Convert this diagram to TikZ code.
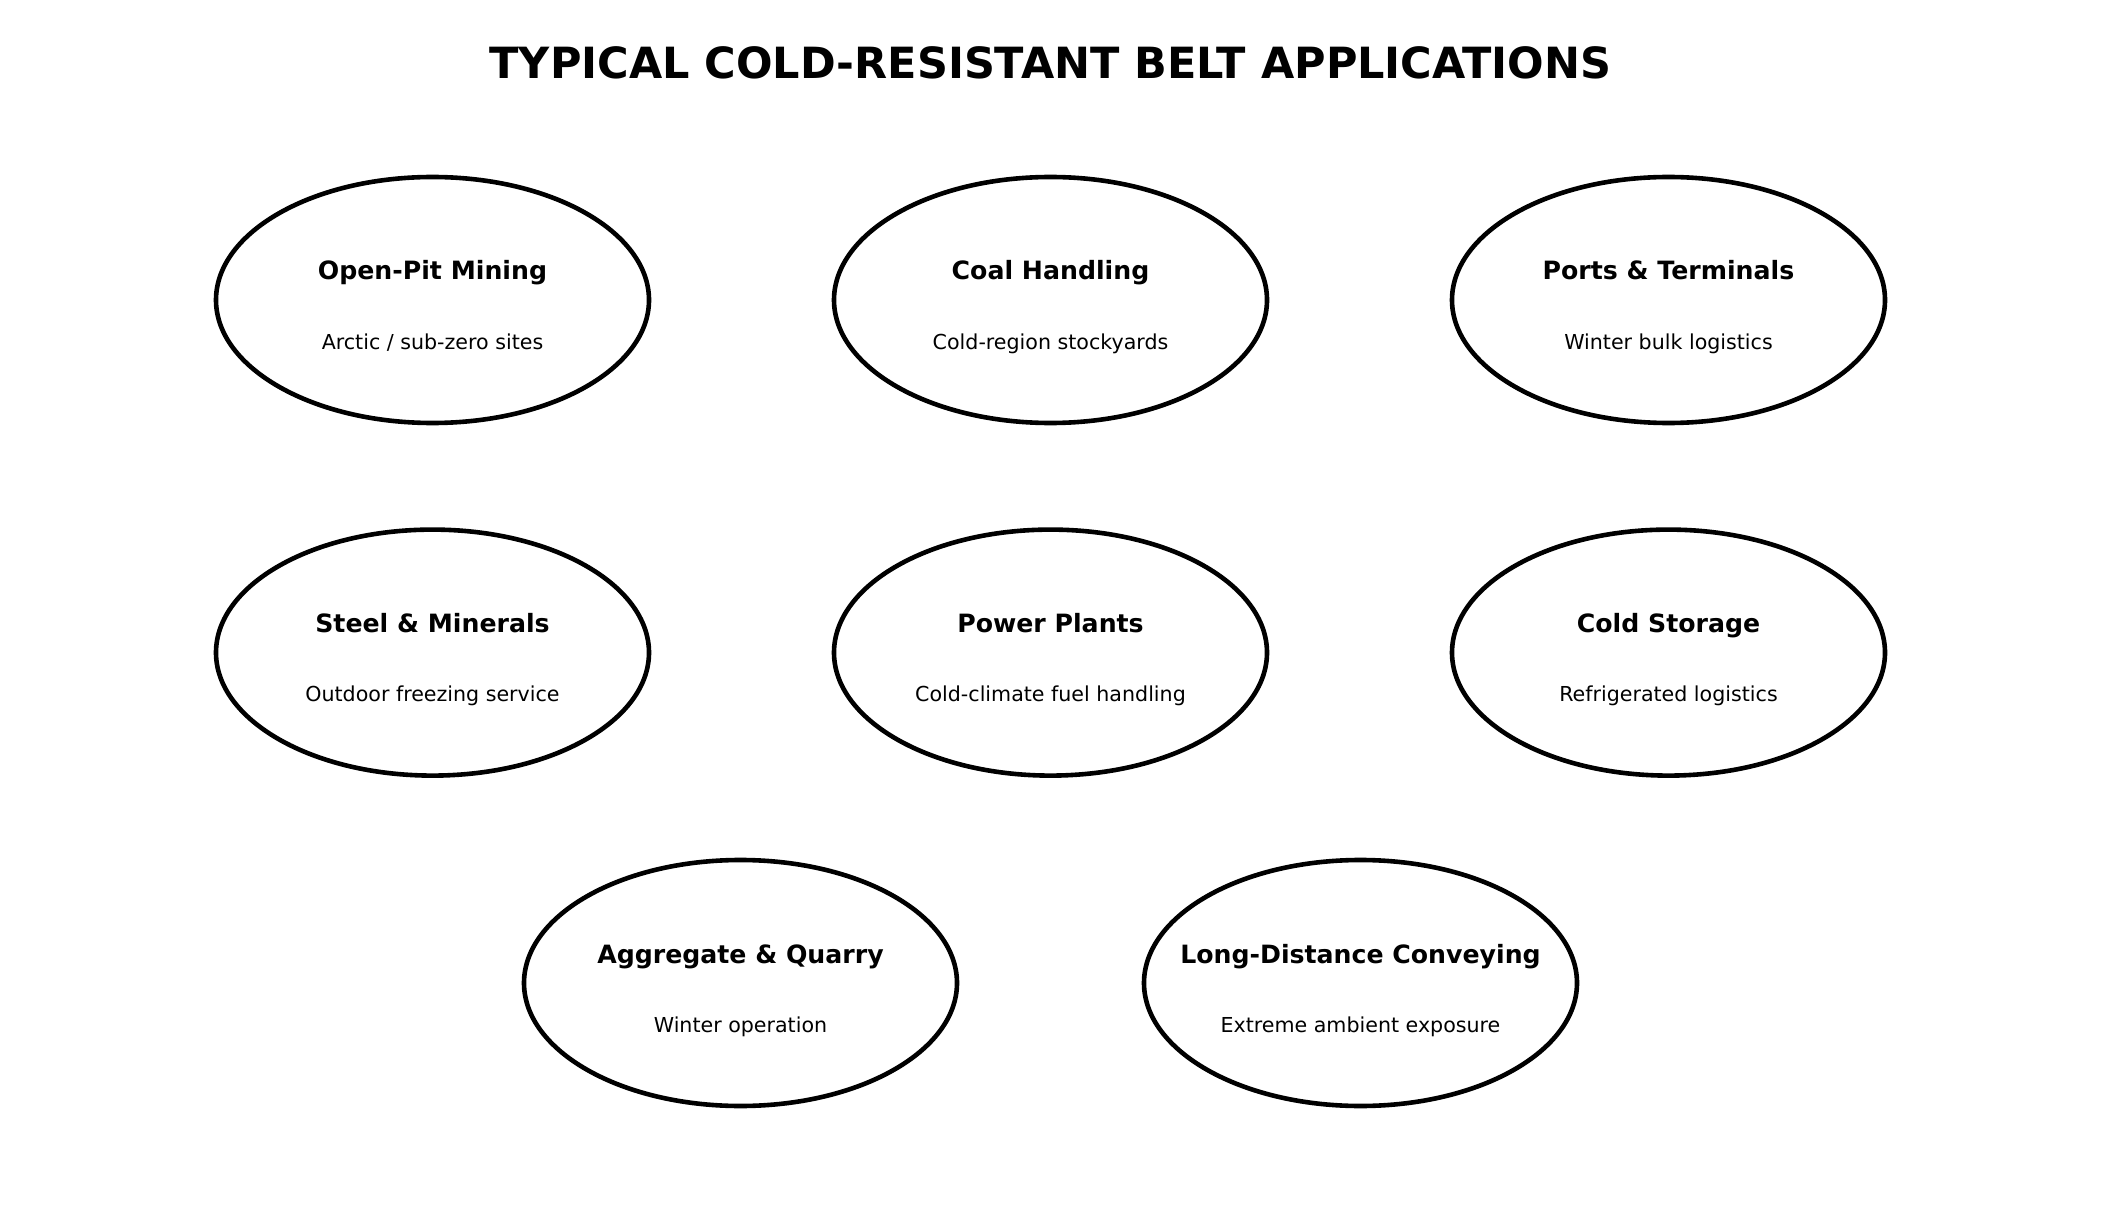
\documentclass[tikz,border=0pt]{standalone}
\usepackage{fontspec}
\setmainfont{DejaVu Sans}
\usetikzlibrary{shapes.geometric}

\tikzset{
  app/.style = {draw, ellipse, line width = 2.3pt, minimum width = 216.5pt, minimum height = 123pt},
  head/.style = {anchor = base, font = \fontsize{12.6}{15}\selectfont\bfseries, inner sep = 0pt},
  sub/.style = {anchor = base, font = \fontsize{10.3}{12}\selectfont, inner sep = 0pt}
}

\begin{document}
\begin{tikzpicture}[x = 1pt, y = 1pt]
\useasboundingbox (0,0) rectangle (1050.5,-607);
\node[font = \fontsize{21.5}{26}\selectfont\bfseries] (title) at (525.25,-31.5) {TYPICAL COLD-RESISTANT BELT APPLICATIONS};
\node[app] (e1) at (216.25,-150) {};
\node[app] (e2) at (525.25,-150) {};
\node[app] (e3) at (834.25,-150) {};
\node[app] (e4) at (216.25,-326.3) {};
\node[app] (e5) at (525.25,-326.3) {};
\node[app] (e6) at (834.25,-326.3) {};
\node[app] (e7) at (370.25,-491.5) {};
\node[app] (e8) at (680.25,-491.5) {};
\node[head] (h1) at ([yshift = 10pt]e1.center) {Open-Pit Mining};
\node[sub] (s1) at ([yshift = -24.6pt]e1.center) {Arctic / sub-zero sites};
\node[head] (h2) at ([yshift = 10pt]e2.center) {Coal Handling};
\node[sub] (s2) at ([yshift = -24.6pt]e2.center) {Cold-region stockyards};
\node[head] (h3) at ([yshift = 10pt]e3.center) {Ports \& Terminals};
\node[sub] (s3) at ([yshift = -24.6pt]e3.center) {Winter bulk logistics};
\node[head] (h4) at ([yshift = 10pt]e4.center) {Steel \& Minerals};
\node[sub] (s4) at ([yshift = -24.6pt]e4.center) {Outdoor freezing service};
\node[head] (h5) at ([yshift = 10pt]e5.center) {Power Plants};
\node[sub] (s5) at ([yshift = -24.6pt]e5.center) {Cold-climate fuel handling};
\node[head] (h6) at ([yshift = 10pt]e6.center) {Cold Storage};
\node[sub] (s6) at ([yshift = -24.6pt]e6.center) {Refrigerated logistics};
\node[head] (h7) at ([yshift = 10pt]e7.center) {Aggregate \& Quarry};
\node[sub] (s7) at ([yshift = -24.6pt]e7.center) {Winter operation};
\node[head] (h8) at ([yshift = 10pt]e8.center) {Long-Distance Conveying};
\node[sub] (s8) at ([yshift = -24.6pt]e8.center) {Extreme ambient exposure};
\end{tikzpicture}
\end{document}
